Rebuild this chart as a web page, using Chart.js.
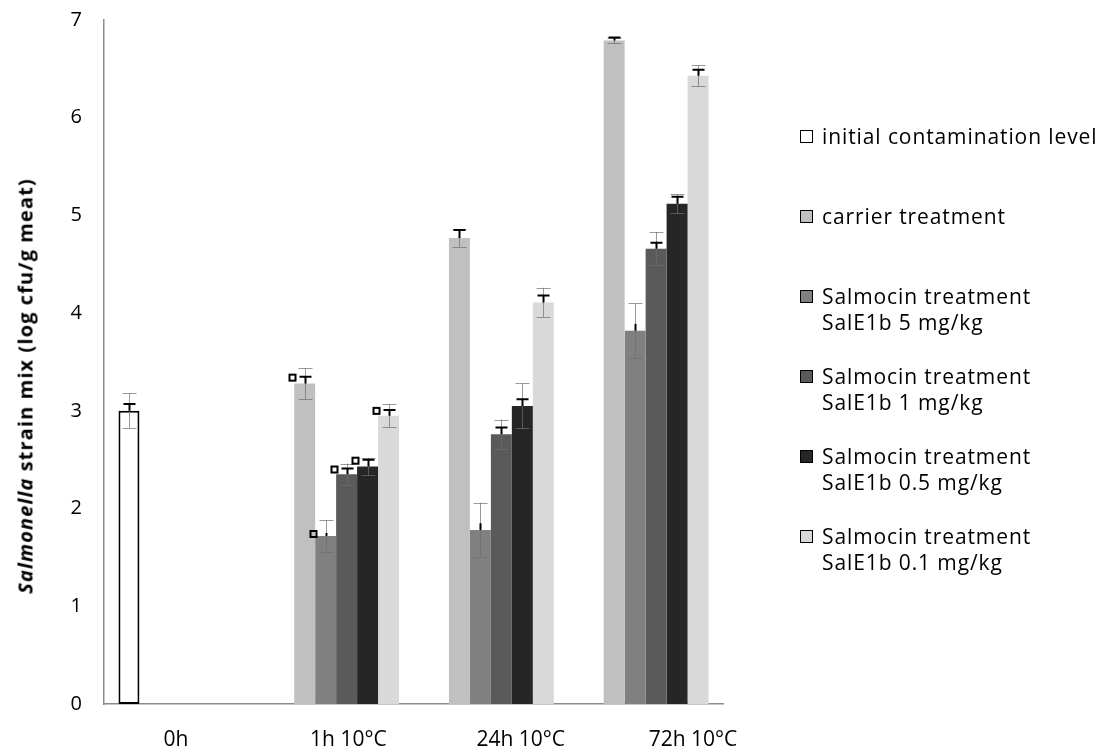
<!DOCTYPE html>
<html>
<head>
<meta charset="utf-8">
<script src="https://cdn.jsdelivr.net/npm/chart.js@4.4.0/dist/chart.umd.min.js"></script>
<style>
  body { margin: 0; background: #fff; font-family: 'Open Sans', sans-serif; }
  #wrap { position: relative; width: 1105px; height: 752px; }
  #yTitle {
    position: absolute; left: 25px; top: 386px;
    transform: translate(-50%, -50%) rotate(-90deg);
    font-weight: bold; font-size: 20px; letter-spacing: 1.1px; white-space: nowrap; color: #000;
  }
  #legend { position: absolute; left: 800px; top: 123px; }
  .item { height: 80px; display: flex; align-items: flex-start; }
  .box { width: 11px; height: 11px; border: 1px solid #000; margin-top: 7px; margin-right: 9px; flex: none; }
  .txt { font-size: 21px; letter-spacing: 0.9px; line-height: 26px; color: #000; white-space: pre; }
</style>
</head>
<body>
<div id="wrap">
  <canvas id="chart" width="1105" height="752"></canvas>
  <div id="yTitle"><i>Salmonella</i> strain mix (log cfu/g meat)</div>
  <div id="legend"></div>
</div>
<script>
// Datos del gráfico
const categories = ['0h', '1h 10°C', '24h 10°C', '72h 10°C'];
const seriesNames = [
  'initial contamination level',
  'carrier treatment',
  'Salmocin treatment\nSalE1b 5 mg/kg',
  'Salmocin treatment\nSalE1b 1 mg/kg',
  'Salmocin treatment\nSalE1b 0.5 mg/kg',
  'Salmocin treatment\nSalE1b 0.1 mg/kg'
];
const seriesColors = ['#ffffff', '#c0c0c0', '#808080', '#5a5a5a', '#262626', '#d9d9d9'];

// Valores (log cfu/g)
const initialLevel = [3.00, null, null, null];
const carrier      = [null, 3.28, 4.77, 6.79];
const sal5         = [null, 1.72, 1.78, 3.82];
const sal1         = [null, 2.35, 2.76, 4.66];
const sal05        = [null, 2.43, 3.05, 5.12];
const sal01        = [null, 2.95, 4.11, 6.43];

// Desviación (barras grises)
const sdInitial = [0.18, null, null, null];
const sdCarrier = [null, 0.16, 0.09, 0.03];
const sdSal5    = [null, 0.16, 0.28, 0.28];
const sdSal1    = [null, 0.11, 0.15, 0.17];
const sdSal05   = [null, 0.09, 0.23, 0.10];
const sdSal01   = [null, 0.12, 0.15, 0.11];

// Error superior (barras negras)
const upInitial = [0.07, null, null, null];
const upCarrier = [null, 0.07, 0.08, 0.03];
const upSal5    = [null, 0.03, 0.07, 0.07];
const upSal1    = [null, 0.06, 0.07, 0.06];
const upSal05   = [null, 0.07, 0.07, 0.07];
const upSal01   = [null, 0.06, 0.07, 0.06];

// Marcadores cuadrados junto a las barras de error
const marked = [false, true, false, false];

const yTicks = [0, 1, 2, 3, 4, 5, 6, 7];

const values = [initialLevel, carrier, sal5, sal1, sal05, sal01];
const sds = [sdInitial, sdCarrier, sdSal5, sdSal1, sdSal05, sdSal01];
const ups = [upInitial, upCarrier, upSal5, upSal1, upSal05, upSal01];

const datasets = values.map((vals, i) => ({
  label: seriesNames[i],
  data: vals,
  sd: sds[i],
  up: ups[i],
  tCap: i !== 2,
  backgroundColor: seriesColors[i],
  borderColor: '#000',
  borderWidth: i === 0 ? 2 : 0,
  borderSkipped: false,
  categoryPercentage: 0.813,
  barPercentage: 1.0
}));

// Plugin para dibujar barras de error
const errorBars = {
  id: 'errorBars',
  afterDatasetsDraw(chart) {
    const { ctx } = chart;
    const yScale = chart.scales.y;
    chart.data.datasets.forEach((ds, di) => {
      const meta = chart.getDatasetMeta(di);
      meta.data.forEach((bar, i) => {
        const v = ds.data[i];
        if (v == null) return;
        const x = Math.round(bar.x) + 0.5;
        // barra gris simétrica
        const sd = ds.sd[i];
        if (sd != null) {
          const y1 = yScale.getPixelForValue(v + sd);
          const y2 = yScale.getPixelForValue(v - sd);
          ctx.save();
          ctx.strokeStyle = 'rgba(110,110,110,0.7)';
          ctx.lineWidth = 1;
          ctx.beginPath();
          ctx.moveTo(x, y1); ctx.lineTo(x, y2);
          ctx.moveTo(x - 7, Math.round(y1) + 0.5); ctx.lineTo(x + 7, Math.round(y1) + 0.5);
          ctx.moveTo(x - 7, Math.round(y2) + 0.5); ctx.lineTo(x + 7, Math.round(y2) + 0.5);
          ctx.stroke();
          ctx.restore();
        }
        // barra negra superior
        const up = ds.up[i];
        if (up != null) {
          const yTop = yScale.getPixelForValue(v + up);
          const yBar = yScale.getPixelForValue(v);
          ctx.save();
          ctx.strokeStyle = '#000';
          ctx.lineWidth = 2;
          ctx.beginPath();
          ctx.moveTo(x, yTop); ctx.lineTo(x, yBar);
          if (ds.tCap) {
            ctx.moveTo(x - 6, yTop); ctx.lineTo(x + 6, yTop);
          }
          ctx.stroke();
          if (marked[i]) {
            ctx.strokeRect(x - 16, yTop - 2, 6, 6);
          }
          ctx.restore();
        }
      });
    });
  }
};

const ctx = document.getElementById('chart').getContext('2d');
const chart = new Chart(ctx, {
  type: 'bar',
  data: { labels: categories, datasets: datasets },
  options: {
    responsive: false,
    animation: false,
    layout: { padding: { top: 20, right: 382, left: 0, bottom: 0 } },
    plugins: {
      legend: { display: false },
      tooltip: { enabled: false }
    },
    scales: {
      x: {
        type: 'category',
        position: 'bottom',
        grid: { display: false, drawTicks: false },
        border: { display: true, color: '#8c8c8c', width: 1.5 },
        ticks: { display: false },
        afterFit: (s) => { s.height = 0; }
      },
      x2: {
        type: 'linear',
        position: 'bottom',
        offset: false,
        min: -0.418,
        max: 3.174,
        grid: { display: false, drawTicks: false, offset: false },
        border: { display: false },
        ticks: {
          stepSize: 1,
          includeBounds: false,
          autoSkip: false,
          maxRotation: 0,
          padding: 23,
          color: '#000',
          font: { family: 'Open Sans', size: 21 },
          callback: (v) => Number.isInteger(v) && categories[v] ? categories[v] : ''
        },
        afterFit: (s) => { s.height = 48; s.paddingLeft = 0; s.paddingRight = 0; }
      },
      y: {
        min: 0,
        max: 7,
        afterBuildTicks: (s) => { s.ticks = yTicks.map(v => ({ value: v })); },
        grid: { display: false, drawTicks: false },
        border: { display: true, color: '#8c8c8c', width: 1.5 },
        ticks: {
          padding: 22,
          color: '#000',
          font: { family: 'Open Sans', size: 20 }
        },
        afterFit: (s) => { s.width = 104; s.paddingTop = 0; s.paddingBottom = 0; }
      }
    }
  },
  plugins: [errorBars]
});

// Leyenda HTML
const legend = document.getElementById('legend');
seriesNames.forEach((name, i) => {
  const item = document.createElement('div');
  item.className = 'item';
  const box = document.createElement('span');
  box.className = 'box';
  box.style.background = seriesColors[i];
  const txt = document.createElement('span');
  txt.className = 'txt';
  txt.textContent = name;
  item.appendChild(box);
  item.appendChild(txt);
  legend.appendChild(item);
});
</script>
</body>
</html>
